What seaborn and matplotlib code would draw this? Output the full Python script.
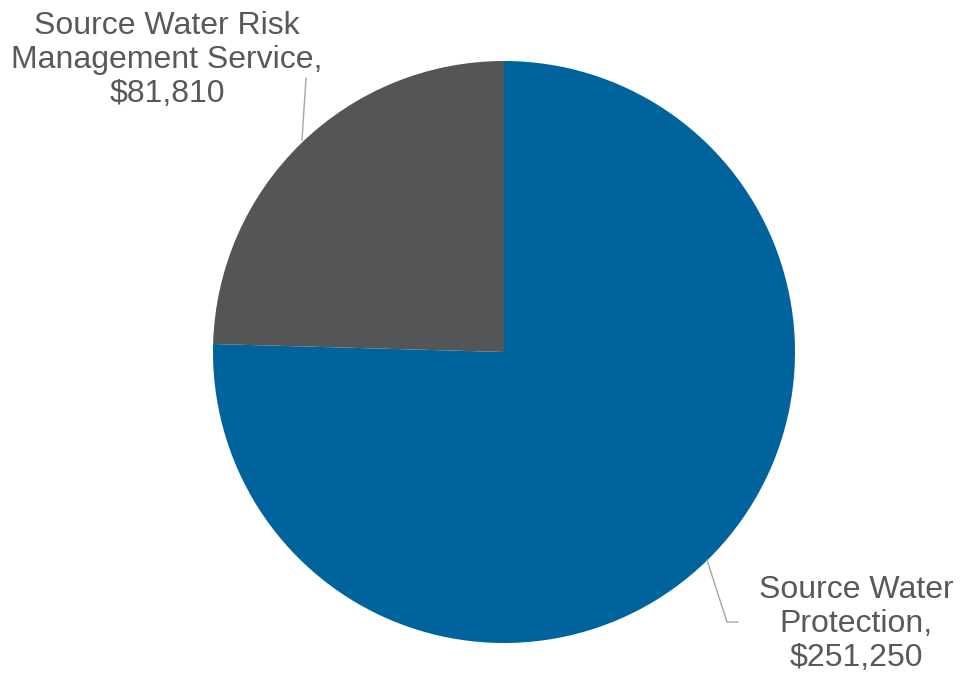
import matplotlib
matplotlib.use("Agg")
import matplotlib.pyplot as plt
import seaborn as sns

categories = ["Source Water Protection", "Source Water Risk Management Service"]
values = [251250, 81810]
label_texts = ["Source Water\nProtection,\n$251,250", "Source Water Risk\nManagement Service,\n$81,810"]
colors = ["#00639C", "#545557"]

sns.set_theme(style="white")
plt.rcParams['font.family'] = ['Liberation Sans', 'DejaVu Sans']

H = 682
fig = plt.figure(figsize=(9.6, 6.82), dpi=100)
ax = fig.add_axes([0, 0, 1, 1])

ax.pie(values, colors=colors, startangle=90, counterclock=False,
       center=(504, H - 352), radius=291, frame=True,
       wedgeprops=dict(linewidth=0))
ax.set_xlim(0, 960)
ax.set_ylim(0, H)
ax.set_aspect('equal')
ax.axis('off')

txtc = "#595959"
linec = "#A6A6A6"
# blue label
ax.plot([707, 727, 738], [H - 560, H - 622, H - 622], color=linec, lw=1)
ax.text(856, H - 624, label_texts[0], ha='center', va='center', fontsize=23,
        color=txtc, linespacing=1.16)
# gray label
ax.plot([302, 306], [H - 140, H - 78], color=linec, lw=1)
ax.text(167, H - 60, label_texts[1], ha='center', va='center', fontsize=23,
        color=txtc, linespacing=1.16)

fig.savefig("out.png", dpi=100, facecolor="white")
